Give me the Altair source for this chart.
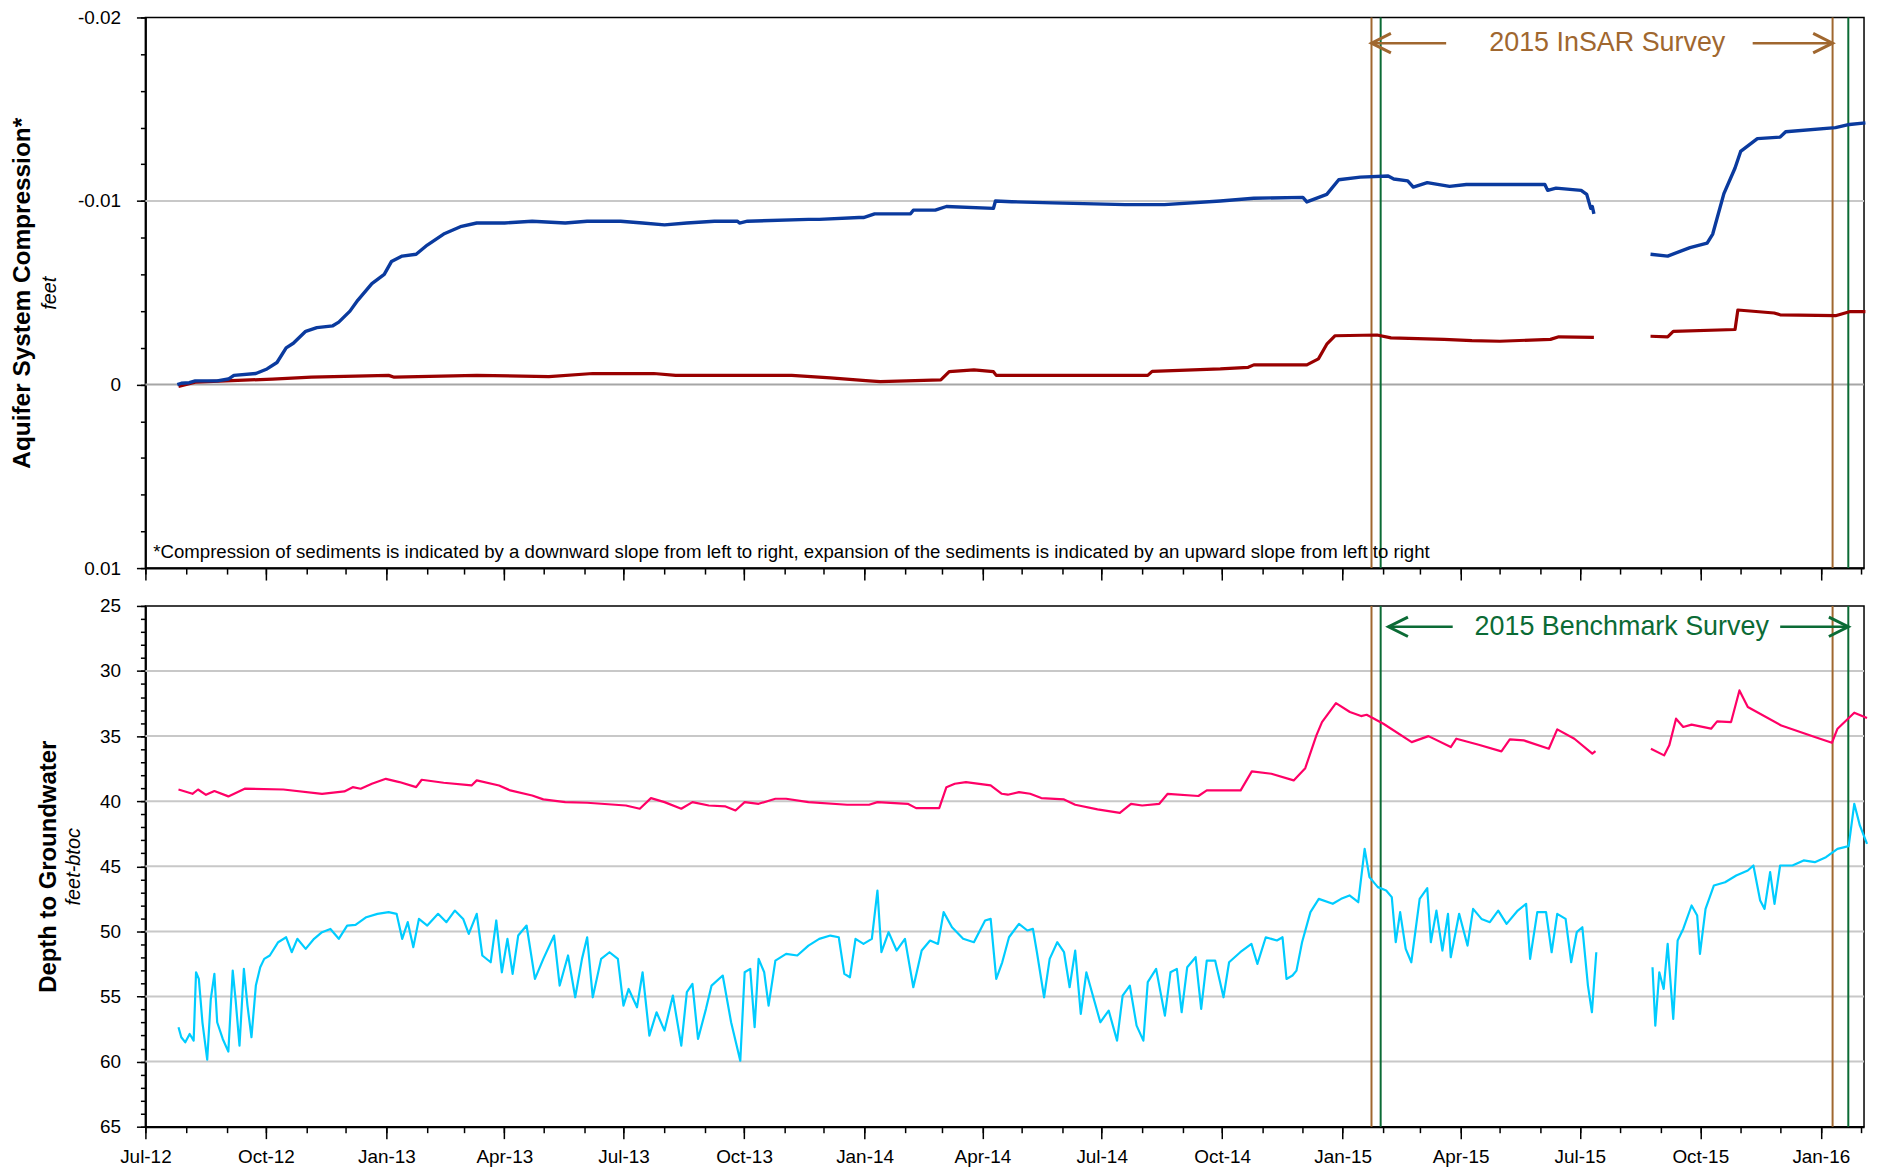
import altair as alt
import pandas as pd

FONT = "Liberation Sans"
DAY = 86400000.0


def ms(s):
    return int(pd.Timestamp(s, tz="UTC").value // 1_000_000)


T0 = ms("2012-07-01")


def m2ms(months):
    # months elapsed since 1 July 2012 -> epoch milliseconds
    return [T0 + m * 30.4375 * DAY for m in months]


# ---------------- data ----------------
# time axis values are "months since Jul-2012"
blue_t1 = [0.80, 0.90, 1.10, 1.25, 1.80, 2.08, 2.22, 2.77, 3.05, 3.30, 3.53, 3.71, 4.02, 4.30, 4.70, 4.85,
           5.13, 5.33, 5.68, 5.99, 6.17, 6.44, 6.79, 7.07, 7.48, 7.90, 8.31, 9.01, 9.70, 10.53, 11.08, 11.92,
           12.47, 13.02, 13.58, 14.27, 14.85, 14.90, 15.10, 16.63, 16.90, 17.90, 18.01, 18.29, 19.19, 19.26,
           19.81, 20.09, 21.27, 21.32, 21.73, 22.75, 24.57, 25.56, 26.96, 27.80, 29.03, 29.13, 29.63, 29.93,
           30.47, 31.17, 31.31, 31.66, 31.80, 32.15, 32.71, 33.13, 35.10, 35.17, 35.38, 36.01, 36.15, 36.25,
           36.29, 36.33]
blue_v1 = [0.0, -0.00007, -0.0001, -0.0002, -0.0002, -0.0003, -0.0005, -0.0006, -0.00085, -0.0012, -0.0020,
           -0.00225, -0.0029, -0.0031, -0.0032, -0.0034, -0.0040, -0.0046, -0.0055, -0.0060, -0.0067, -0.0070,
           -0.0071, -0.0076, -0.0082, -0.0086, -0.0088, -0.0088, -0.0089, -0.0088, -0.0089, -0.0089, -0.0088,
           -0.0087, -0.0088, -0.0089, -0.0089, -0.0088, -0.0089, -0.0090, -0.0090, -0.0091, -0.0091, -0.0093,
           -0.0093, -0.0095, -0.0095, -0.0097, -0.0096, -0.0100, -0.00996, -0.0099, -0.0098, -0.0098, -0.0100,
           -0.01015, -0.0102, -0.00995, -0.01036, -0.01116, -0.0113, -0.01136, -0.0112, -0.0111, -0.01076,
           -0.0110, -0.0108, -0.0109, -0.0109, -0.01058, -0.0107, -0.01058, -0.01036, -0.0096, -0.0097, -0.0093]
blue_t2 = [37.75, 38.18, 38.74, 39.17, 39.31, 39.59, 39.87, 40.01, 40.43, 41.00, 41.14, 42.39, 42.74, 43.14]
blue_v2 = [-0.0071, -0.0070, -0.00746, -0.0077, -0.0082, -0.0104, -0.0118, -0.0127, -0.0134, -0.01348,
           -0.01377, -0.0140, -0.01417, -0.01426]

red_t1 = [0.83, 1.25, 3.19, 4.16, 6.10, 6.24, 8.31, 10.12, 11.22, 12.75, 13.30, 16.21, 17.18, 18.15, 18.43,
          19.95, 20.16, 20.78, 21.27, 21.34, 21.73, 25.14, 25.25, 26.96, 27.66, 27.80, 29.13, 29.42, 29.63,
          29.84, 30.89, 31.24, 32.57, 33.27, 33.97, 35.24, 35.45, 36.33]
red_v1 = [0.0001, -0.00013, -0.0003, -0.0004, -0.0005, -0.0004, -0.0005, -0.00043, -0.0006, -0.0006, -0.0005,
          -0.0005, -0.00036, -0.0002, -0.00016, -0.00025, -0.0007, -0.0008, -0.0007, -0.0005, -0.0005, -0.0005,
          -0.00072, -0.00085, -0.00094, -0.00107, -0.00107, -0.0014, -0.0022, -0.00266, -0.0027, -0.00254,
          -0.00246, -0.00239, -0.00236, -0.00246, -0.0026, -0.00257]
red_t2 = [37.75, 38.18, 38.32, 39.87, 39.94, 40.85, 41.00, 42.39, 42.74, 43.14]
red_v2 = [-0.00263, -0.0026, -0.0029, -0.0030, -0.00406, -0.0039, -0.0038, -0.00375, -0.00397, -0.00397]

pink_t1 = [0.83, 1.18, 1.32, 1.52, 1.73, 2.08, 2.49, 3.46, 4.43, 4.99, 5.20, 5.40, 5.68, 6.03, 6.37, 6.79,
           6.93, 7.48, 8.18, 8.31, 8.87, 9.15, 9.70, 9.98, 10.53, 11.08, 12.05, 12.40, 12.68, 13.02, 13.44,
           13.72, 14.13, 14.55, 14.80, 15.03, 15.38, 15.80, 16.07, 16.63, 17.60, 18.15, 18.36, 19.12, 19.33,
           19.91, 20.09, 20.30, 20.58, 21.20, 21.48, 21.63, 21.91, 22.19, 22.47, 23.04, 23.32, 23.88, 24.44,
           24.72, 25.00, 25.43, 25.64, 26.41, 26.62, 27.47, 27.75, 28.24, 28.80, 29.09, 29.37, 29.51, 29.86,
           30.21, 30.49, 30.63, 31.05, 31.76, 32.18, 32.74, 32.88, 33.44, 34.01, 34.22, 34.57, 35.20, 35.41,
           35.84, 36.29, 36.37]
pink_d1 = [39.10, 39.43, 39.10, 39.51, 39.22, 39.63, 39.04, 39.10, 39.43, 39.25, 38.92, 39.04, 38.66, 38.28,
           38.53, 38.92, 38.35, 38.58, 38.79, 38.40, 38.79, 39.17, 39.56, 39.86, 40.07, 40.12, 40.33, 40.58,
           39.76, 40.07, 40.58, 40.07, 40.33, 40.40, 40.71, 40.07, 40.20, 39.81, 39.81, 40.07, 40.27, 40.27,
           40.07, 40.20, 40.53, 40.53, 38.92, 38.66, 38.53, 38.79, 39.43, 39.50, 39.30, 39.43, 39.76, 39.86,
           40.27, 40.63, 40.89, 40.20, 40.33, 40.20, 39.43, 39.60, 39.17, 39.17, 37.71, 37.89, 38.40, 37.46,
           34.94, 33.92, 32.46, 33.15, 33.46, 33.36, 34.05, 35.46, 35.00, 35.84, 35.20, 35.66, 36.17, 35.25,
           35.33, 35.97, 34.48, 35.20, 36.35, 36.15]
pink_t2 = [37.76, 38.09, 38.22, 38.39, 38.57, 38.78, 39.27, 39.42, 39.77, 39.98, 40.19, 41.03, 41.87, 42.30,
           42.44, 42.86, 43.18]
pink_d2 = [35.97, 36.48, 35.71, 33.66, 34.30, 34.12, 34.43, 33.87, 33.92, 31.49, 32.77, 34.18, 35.07, 35.51,
           34.43, 33.20, 33.61]

cyan_t1 = [0.83, 0.90, 1.00, 1.11, 1.21, 1.27, 1.34, 1.43, 1.55, 1.64, 1.73, 1.80, 1.94, 2.08, 2.19, 2.26,
           2.36, 2.47, 2.56, 2.66, 2.77, 2.88, 2.98, 3.12, 3.33, 3.53, 3.67, 3.81, 4.02, 4.23, 4.43, 4.64, 4.85,
           5.06, 5.27, 5.54, 5.82, 6.10, 6.30, 6.44, 6.58, 6.72, 6.86, 7.07, 7.34, 7.55, 7.76, 7.97, 8.11, 8.31,
           8.45, 8.66, 8.80, 8.94, 9.08, 9.21, 9.35, 9.56, 9.77, 9.98, 10.25, 10.39, 10.60, 10.78, 10.95, 11.08,
           11.22, 11.43, 11.64, 11.85, 11.99, 12.12, 12.33, 12.47, 12.64, 12.82, 13.02, 13.23, 13.44, 13.58,
           13.72, 13.86, 14.06, 14.20, 14.48, 14.69, 14.92, 15.03, 15.17, 15.28, 15.38, 15.52, 15.63, 15.80,
           16.07, 16.35, 16.63, 16.90, 17.18, 17.39, 17.53, 17.67, 17.81, 18.01, 18.22, 18.36, 18.46, 18.64,
           18.84, 19.05, 19.26, 19.47, 19.68, 19.88, 20.02, 20.23, 20.51, 20.78, 21.06, 21.20, 21.34, 21.49,
           21.66, 21.91, 22.12, 22.26, 22.36, 22.54, 22.68, 22.87, 23.04, 23.18, 23.32, 23.46, 23.60, 23.81,
           23.95, 24.16, 24.37, 24.51, 24.69, 24.86, 25.03, 25.14, 25.35, 25.57, 25.71, 25.87, 25.99, 26.13,
           26.34, 26.48, 26.62, 26.83, 27.04, 27.18, 27.46, 27.74, 27.89, 28.10, 28.38, 28.52, 28.62, 28.77,
           28.87, 29.01, 29.22, 29.43, 29.78, 29.99, 30.20, 30.42, 30.58, 30.70, 30.91, 31.12, 31.26, 31.36,
           31.47, 31.61, 31.75, 31.96, 32.15, 32.24, 32.38, 32.53, 32.67, 32.74, 32.95, 33.16, 33.30, 33.51,
           33.72, 33.93, 34.14, 34.42, 34.63, 34.73, 34.91, 35.13, 35.27, 35.41, 35.62, 35.76, 35.90, 36.04,
           36.18, 36.28, 36.39]
cyan_d1 = [57.36, 58.13, 58.52, 57.88, 58.39, 53.14, 53.65, 56.98, 59.85, 55.19, 53.26, 56.98, 58.26, 59.23,
           53.01, 55.19, 58.77, 52.88, 55.70, 58.13, 54.16, 52.75, 52.11, 51.85, 50.83, 50.45, 51.60, 50.57,
           51.34, 50.57, 50.06, 49.81, 50.57, 49.55, 49.50, 48.91, 48.65, 48.52, 48.65, 50.57, 49.29, 51.21,
           49.04, 49.55, 48.65, 49.29, 48.40, 49.04, 50.19, 48.65, 51.85, 52.37, 49.16, 53.14, 50.57, 53.26,
           50.32, 49.55, 53.65, 52.11, 50.32, 54.16, 51.85, 55.06, 52.11, 50.45, 55.06, 52.11, 51.60, 52.11,
           55.70, 54.42, 55.83, 53.14, 58.00, 56.21, 57.62, 54.93, 58.77, 54.67, 54.03, 58.26, 55.95, 54.16,
           53.39, 56.98, 59.93, 53.14, 52.88, 57.36, 52.11, 53.14, 55.70, 52.24, 51.73, 51.85, 51.09, 50.57,
           50.32, 50.45, 53.26, 53.52, 50.57, 50.96, 50.57, 46.86, 51.60, 50.06, 51.47, 50.57, 54.29, 51.47,
           50.70, 50.96, 48.52, 49.68, 50.57, 50.83, 49.16, 49.04, 53.65, 52.37, 50.45, 49.42, 49.93, 49.81,
           51.60, 55.06, 52.11, 50.83, 51.60, 54.29, 51.47, 56.34, 53.14, 55.44, 56.98, 56.08, 58.39, 54.93,
           54.16, 57.24, 58.39, 53.90, 52.88, 56.47, 53.14, 52.88, 56.21, 52.75, 51.98, 55.95, 52.24, 52.24,
           55.06, 52.37, 51.60, 50.96, 52.50, 50.45, 50.70, 50.45, 53.65, 53.39, 53.01, 50.83, 48.52, 47.50,
           47.88, 47.50, 47.24, 47.76, 43.66, 45.83, 46.60, 46.86, 47.37, 50.83, 48.52, 51.34, 52.37, 47.50,
           46.68, 50.83, 48.40, 51.47, 48.65, 51.98, 48.65, 51.09, 48.27, 49.04, 49.29, 48.40, 49.42, 48.40,
           47.88, 52.11, 48.52, 48.52, 51.60, 48.65, 49.04, 52.37, 50.06, 49.68, 54.16, 56.21, 51.60]
cyan_t2 = [37.80, 37.87, 37.97, 38.08, 38.18, 38.32, 38.43, 38.57, 38.78, 38.92, 38.99, 39.13, 39.34, 39.62,
           39.90, 40.19, 40.33, 40.50, 40.61, 40.75, 40.86, 41.00, 41.31, 41.59, 41.87, 42.15, 42.44, 42.72,
           42.86, 43.00, 43.18]
cyan_d2 = [52.75, 57.24, 53.14, 54.42, 50.96, 56.72, 50.70, 49.81, 48.01, 48.78, 51.73, 48.27, 46.47, 46.22,
           45.71, 45.32, 44.94, 47.63, 48.27, 45.45, 47.88, 44.94, 44.94, 44.55, 44.68, 44.30, 43.66, 43.45,
           40.20, 41.86, 43.27]

# survey dates
insar_dates = ["2015-01-23", "2016-01-10"]
bench_dates = ["2015-01-30", "2016-01-22"]
x_start, x_end = "2012-07-01", "2016-02-03"

major_ticks = ["2012-07-01", "2012-10-01", "2013-01-01", "2013-04-01", "2013-07-01", "2013-10-01",
               "2014-01-01", "2014-04-01", "2014-07-01", "2014-10-01", "2015-01-01", "2015-04-01",
               "2015-07-01", "2015-10-01", "2016-01-01"]
minor_ticks = [f"{y}-{m:02d}-01" for y in (2012, 2013, 2014, 2015, 2016) for m in range(1, 13)
               if "2012-07-01" <= f"{y}-{m:02d}-01" <= "2016-02-01"]

comp_ticks = [-0.02, -0.01, 0.0, 0.01]
comp_minor = [-0.02, -0.018, -0.016, -0.014, -0.012, -0.01, -0.008, -0.006, -0.004, -0.002, 0.0,
              0.002, 0.004, 0.006, 0.008, 0.01]
depth_ticks = [25, 30, 35, 40, 45, 50, 55, 60, 65]
depth_minor = list(range(25, 66))

comp_grid = [-0.01, 0.0]
comp_grid_col = ["#C8C8C8", "#A6A6A6"]
depth_grid = [30, 35, 40, 45, 50, 55, 60]

footnote = ("*Compression of sediments is indicated by a downward slope from left to right, "
            "expansion of the sediments is indicated by an upward slope from left to right")

# annotation positions (data space)
insar_label = {"t": "2015-07-22", "v": -0.0186, "text": "2015 InSAR Survey"}
insar_shafts = [("2015-01-23", "2015-03-21"), ("2015-11-10", "2016-01-10")]
bench_label = {"t": "2015-08-02", "v": 26.6, "text": "2015 Benchmark Survey"}
bench_shafts = [("2015-02-05", "2015-03-26"), ("2015-12-01", "2016-01-22")]

BLUE, RED, PINK, CYAN = "#0A3A9E", "#990000", "#FF0066", "#00CCFF"
BROWN, GREEN = "#A0672F", "#0B6B35"

# ---------------- frames ----------------
def series_df(t1, v1, t2, v2):
    a = pd.DataFrame({"t": m2ms(t1), "v": v1, "seg": 1})
    b = pd.DataFrame({"t": m2ms(t2), "v": v2, "seg": 2})
    return pd.concat([a, b], ignore_index=True)


blue_df = series_df(blue_t1, blue_v1, blue_t2, blue_v2)
red_df = series_df(red_t1, red_v1, red_t2, red_v2)
pink_df = series_df(pink_t1, pink_d1, pink_t2, pink_d2)
cyan_df = series_df(cyan_t1, cyan_d1, cyan_t2, cyan_d2)

vlines = pd.DataFrame({"t": [ms(d) for d in insar_dates + bench_dates],
                       "kind": ["InSAR", "InSAR", "Bench", "Bench"]})

W = 1726
H1, H2 = 553, 523

xscale = alt.Scale(type="utc", domain=[ms(x_start), ms(x_end)], nice=False)
top_y = alt.Scale(domain=[-0.02, 0.01], reverse=True, nice=False, zero=False)
bot_y = alt.Scale(domain=[25, 65], reverse=True, nice=False, zero=False)

common_lab = dict(labelFont=FONT, labelFontSize=19, labelColor="black", tickColor="black")


def x_major(labels):
    return alt.Axis(orient="bottom", values=[ms(d) for d in major_ticks],
                    labelExpr="utcFormat(datum.value, '%b-%y')",
                    labels=labels, tickSize=12, tickWidth=1.5, domainColor="black", domainWidth=2,
                    grid=False, title=None, labelPadding=9, labelFlush=False, labelOverlap=False,
                    **common_lab)


def x_minor():
    return alt.Axis(orient="bottom", values=[ms(d) for d in minor_ticks], labels=False, tickSize=6,
                    tickWidth=1.5, tickColor="black", domain=False, grid=False, title=None)


minus_fix = "replace(format(datum.value, '~g'), '\u2212', '-')"

y_top_major = alt.Axis(orient="left", values=comp_ticks, labelExpr=minus_fix, tickSize=9, tickWidth=1.5,
                       domainColor="black", domainWidth=2, grid=False, labelPadding=16,
                       title="Aquifer System Compression*", titleFont=FONT, titleFontSize=24.5,
                       titleFontWeight="bold", titleColor="black", titleX=-111, titleY=H1 / 2,
                       **common_lab)
y_top_minor = alt.Axis(orient="left", values=comp_minor, labels=False, tickSize=5, tickWidth=1.5,
                       tickColor="black", domain=False, grid=False,
                       title="feet", titleFont=FONT, titleFontSize=20, titleFontStyle="italic",
                       titleFontWeight="normal", titleColor="black", titleX=-86, titleY=H1 / 2)
y_bot_major = alt.Axis(orient="left", values=depth_ticks, format="d", tickSize=9, tickWidth=1.5,
                       domainColor="black", domainWidth=2, grid=False, labelPadding=16,
                       title="Depth to Groundwater", titleFont=FONT, titleFontSize=24,
                       titleFontWeight="bold", titleColor="black", titleX=-85, titleY=H2 / 2,
                       **common_lab)
y_bot_minor = alt.Axis(orient="left", values=depth_minor, labels=False, tickSize=5, tickWidth=1.5,
                       tickColor="black", domain=False, grid=False,
                       title="feet-btoc", titleFont=FONT, titleFontSize=20, titleFontStyle="italic",
                       titleFontWeight="normal", titleColor="black", titleX=-62, titleY=H2 / 2)

vcolor = alt.Color("kind:N", scale=alt.Scale(domain=["InSAR", "Bench"], range=[BROWN, GREEN]), legend=None)


def vrules(minor_axis):
    return alt.Chart(vlines).mark_rule(strokeWidth=2).encode(
        x=alt.X("t:T", scale=xscale, axis=minor_axis), color=vcolor)


def line(df, color, width, yscale, xaxis=None, yaxis=None):
    return alt.Chart(df).mark_line(color=color, strokeWidth=width, strokeJoin="round").encode(
        x=alt.X("t:T", scale=xscale, axis=xaxis),
        y=alt.Y("v:Q", scale=yscale, axis=yaxis),
        detail="seg:N", order="t:Q")


def arrows(label, shafts, yscale, color):
    sh = pd.DataFrame({"t": [ms(a) for a, b in shafts], "t2": [ms(b) for a, b in shafts],
                       "v": [label["v"]] * len(shafts)})
    heads = pd.DataFrame({"t": [ms(shafts[0][0]), ms(shafts[1][1])], "v": [label["v"]] * 2,
                          "dir": ["L", "R"]})
    shaft = alt.Chart(sh).mark_rule(color=color, strokeWidth=2.5).encode(
        x=alt.X("t:T", scale=xscale, axis=None), x2="t2:T", y=alt.Y("v:Q", scale=yscale, axis=None))
    hl = alt.Chart(heads[heads.dir == "L"]).mark_point(
        shape="M2,-1L0,0L2,1", size=380, filled=False, color=color, strokeWidth=3, opacity=1).encode(
        x=alt.X("t:T", scale=xscale, axis=None), y=alt.Y("v:Q", scale=yscale, axis=None))
    hr = alt.Chart(heads[heads.dir == "R"]).mark_point(
        shape="M-2,-1L0,0L-2,1", size=380, filled=False, color=color, strokeWidth=3, opacity=1).encode(
        x=alt.X("t:T", scale=xscale, axis=None), y=alt.Y("v:Q", scale=yscale, axis=None))
    txt = alt.Chart(pd.DataFrame({"t": [ms(label["t"])], "v": [label["v"]], "s": [label["text"]]})).mark_text(
        font=FONT, fontSize=27, color=color, align="center", baseline="middle").encode(
        x=alt.X("t:T", scale=xscale, axis=None), y=alt.Y("v:Q", scale=yscale, axis=None), text="s:N")
    return [shaft, hl, hr, txt]


# ---------------- top panel ----------------
tgrid = alt.Chart(pd.DataFrame({"v": comp_grid, "c": comp_grid_col})).mark_rule(strokeWidth=2).encode(
    y=alt.Y("v:Q", scale=top_y, axis=None), color=alt.Color("c:N", scale=None))
note = alt.Chart(pd.DataFrame({"t": [ms("2012-07-07")], "v": [0.0091], "s": [footnote]})).mark_text(
    font=FONT, fontSize=18.7, color="black", align="left", baseline="middle").encode(
    x=alt.X("t:T", scale=xscale, axis=None), y=alt.Y("v:Q", scale=top_y, axis=y_top_minor), text="s:N")

top = alt.layer(
    tgrid,
    vrules(x_minor()),
    line(red_df, RED, 3.2, top_y),
    line(blue_df, BLUE, 3.4, top_y, xaxis=x_major(False), yaxis=y_top_major),
    note,
    *arrows(insar_label, insar_shafts, top_y, BROWN),
).resolve_axis(x="independent", y="independent").properties(width=W, height=H1)

# ---------------- bottom panel ----------------
bgrid = alt.Chart(pd.DataFrame({"v": depth_grid})).mark_rule(strokeWidth=2, color="#C8C8C8").encode(
    y=alt.Y("v:Q", scale=bot_y, axis=y_bot_minor))

bottom = alt.layer(
    bgrid,
    vrules(x_minor()),
    line(cyan_df, CYAN, 2.2, bot_y),
    line(pink_df, PINK, 2.2, bot_y, xaxis=x_major(True), yaxis=y_bot_major),
    *arrows(bench_label, bench_shafts, bot_y, GREEN),
).resolve_axis(x="independent", y="independent").properties(width=W, height=H2)

chart = alt.vconcat(top, bottom, spacing=38, bounds="flush").properties(
    padding={"left": 1, "top": -3, "right": 0, "bottom": 0}, background="white"
).configure_view(stroke="black", strokeWidth=1.5)

chart.save("out.html", embed_options={"renderer": "svg", "actions": False})
